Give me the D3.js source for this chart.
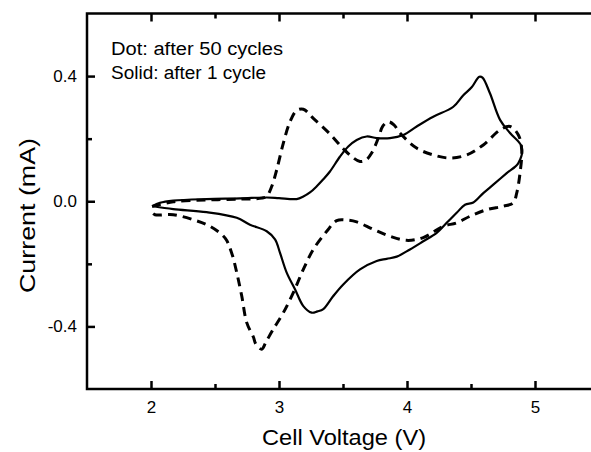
<!DOCTYPE html>
<html>
<head>
<meta charset="utf-8">
<script src="https://cdn.jsdelivr.net/npm/d3@7"></script>
<style>
  body { margin: 0; background: #fff; }
  svg { display: block; font-family: "Liberation Sans", Arial, sans-serif; }
</style>
</head>
<body>
<div id="chart"></div>
<script>
// After 1 cycle (solid)
const solidV = [2.01, 2.07, 2.174, 2.435, 2.695, 2.904, 3.0, 3.138, 3.19, 3.242, 3.295, 3.346, 3.398, 3.477, 3.541, 3.607, 3.685, 3.763, 3.867, 3.971, 4.076, 4.205, 4.362, 4.44, 4.505, 4.565, 4.59, 4.648, 4.727, 4.805, 4.896,
  4.87, 4.779, 4.674, 4.596, 4.518, 4.453, 4.388, 4.31, 4.232, 4.127, 4.023, 3.92, 3.841, 3.763, 3.633, 3.502, 3.424, 3.346, 3.3, 3.255, 3.19, 3.125, 3.06, 3.008, 2.969, 2.904, 2.773, 2.67, 2.435, 2.174, 2.018];
const solidI = [-0.016, -0.005, 0.002, 0.007, 0.009, 0.012, 0.010, 0.007, 0.015, 0.028, 0.048, 0.07, 0.095, 0.143, 0.175, 0.196, 0.207, 0.202, 0.202, 0.212, 0.239, 0.270, 0.302, 0.339, 0.364, 0.398, 0.395, 0.345, 0.260, 0.218, 0.174,
  0.122, 0.090, 0.053, 0.026, -0.004, -0.011, -0.037, -0.069, -0.101, -0.128, -0.154, -0.177, -0.184, -0.191, -0.218, -0.266, -0.303, -0.345, -0.352, -0.356, -0.335, -0.281, -0.228, -0.165, -0.122, -0.096, -0.075, -0.053, -0.035, -0.025, -0.016];

// After 50 cycles (dashed)
const dashV = [2.008, 2.174, 2.435, 2.695, 2.867, 2.904, 2.943, 2.982, 3.034, 3.086, 3.138, 3.19, 3.268, 3.398, 3.502, 3.57, 3.633, 3.68, 3.724, 3.776, 3.812, 3.854, 3.898, 3.945, 4.075, 4.205, 4.336, 4.466, 4.596, 4.727, 4.805, 4.87, 4.896,
  4.883, 4.857, 4.83, 4.752, 4.623, 4.492, 4.388, 4.284, 4.127, 3.998, 3.867, 3.737, 3.607, 3.523, 3.451, 3.373, 3.268, 3.19, 3.112, 3.034, 2.955, 2.898, 2.865, 2.82, 2.80, 2.748, 2.709, 2.67, 2.63, 2.578, 2.461, 2.33, 2.174, 2.031, 2.008];
const dashI = [-0.017, -0.002, 0.004, 0.007, 0.010, 0.016, 0.047, 0.10, 0.186, 0.254, 0.290, 0.294, 0.265, 0.215, 0.168, 0.142, 0.127, 0.132, 0.154, 0.202, 0.241, 0.254, 0.244, 0.218, 0.170, 0.148, 0.138, 0.148, 0.180, 0.228, 0.239, 0.212, 0.164,
  0.090, 0.026, -0.005, -0.016, -0.027, -0.048, -0.069, -0.080, -0.116, -0.125, -0.112, -0.090, -0.066, -0.060, -0.062, -0.096, -0.154, -0.218, -0.292, -0.356, -0.409, -0.450, -0.473, -0.457, -0.434, -0.388, -0.303, -0.228, -0.165, -0.117, -0.080, -0.059, -0.043, -0.043, -0.036];

const xMajor = [2, 3, 4, 5];
const xMinor = [2.5, 3.5, 4.5];
const yMajor = [-0.4, 0.0, 0.4];
const yMinor = [-0.2, 0.2];
const notes = ["Dot: after 50 cycles", "Solid: after 1 cycle"];

const W = 591, H = 452;
const margin = { top: 13.5, left: 87, bottom: 63, rightEdge: 599 };

const svg = d3.select("#chart").append("svg")
  .attr("width", W).attr("height", H);

const x = d3.scaleLinear().domain([1.5, 5.5]).range([margin.left, margin.rightEdge]);
const y = d3.scaleLinear().domain([-0.6, 0.6]).range([H - margin.bottom, margin.top]);

// plain hyphen for negatives, like the original
const fmt = d => d.toFixed(1);

function styleAxis(g) {
  g.select(".domain").remove();
  g.selectAll(".tick line").attr("stroke", "#000").attr("stroke-width", 2.5);
  g.selectAll(".tick text").attr("fill", "#000").attr("font-size", 17)
    .attr("font-family", "Liberation Sans, Arial, sans-serif");
}

// Bottom / top axes
svg.append("g").attr("transform", `translate(0,${y(-0.6)})`)
  .call(d3.axisBottom(x).tickValues(xMajor).tickSize(-8).tickPadding(12).tickFormat(d3.format("d")))
  .call(styleAxis);
svg.append("g").attr("transform", `translate(0,${y(-0.6)})`)
  .call(d3.axisBottom(x).tickValues(xMinor).tickSize(-5).tickFormat(""))
  .call(styleAxis);
svg.append("g").attr("transform", `translate(0,${y(0.6)})`)
  .call(d3.axisTop(x).tickValues(xMajor).tickSize(-8).tickFormat(""))
  .call(styleAxis);
svg.append("g").attr("transform", `translate(0,${y(0.6)})`)
  .call(d3.axisTop(x).tickValues(xMinor).tickSize(-5).tickFormat(""))
  .call(styleAxis);

// Left / right axes
svg.append("g").attr("transform", `translate(${x(1.5)},0)`)
  .call(d3.axisLeft(y).tickValues(yMajor).tickSize(-8).tickPadding(10).tickFormat(fmt))
  .call(styleAxis);
svg.append("g").attr("transform", `translate(${x(1.5)},0)`)
  .call(d3.axisLeft(y).tickValues(yMinor).tickSize(-5).tickFormat(""))
  .call(styleAxis);
svg.append("g").attr("transform", `translate(${x(5.5)},0)`)
  .call(d3.axisRight(y).tickValues(yMajor).tickSize(-8).tickFormat(""))
  .call(styleAxis);

// Frame
svg.append("rect")
  .attr("x", x(1.5)).attr("y", y(0.6))
  .attr("width", x(5.5) - x(1.5)).attr("height", y(-0.6) - y(0.6))
  .attr("fill", "none").attr("stroke", "#000").attr("stroke-width", 2.5);

// Curves
const line = d3.line()
  .x(d => x(d[0])).y(d => y(d[1]))
  .curve(d3.curveCatmullRom.alpha(0.5));

svg.append("path")
  .datum(solidV.map((v, i) => [v, solidI[i]]))
  .attr("d", line)
  .attr("fill", "none").attr("stroke", "#000").attr("stroke-width", 2.2)
  .attr("stroke-linejoin", "round");

svg.append("path")
  .datum(dashV.map((v, i) => [v, dashI[i]]))
  .attr("d", line)
  .attr("fill", "none").attr("stroke", "#000").attr("stroke-width", 3)
  .attr("stroke-dasharray", "9,6");

// Notes
svg.selectAll(".note").data(notes).enter().append("text")
  .attr("class", "note")
  .attr("x", 111).attr("y", (d, i) => 54.5 + i * 24)
  .attr("font-size", 18).attr("fill", "#000")
  .attr("textLength", (d, i) => i === 0 ? 172 : 155)
  .attr("lengthAdjust", "spacingAndGlyphs")
  .text(d => d);

// Axis titles
svg.append("text")
  .attr("x", 262).attr("y", 445)
  .attr("font-size", 22)
  .attr("textLength", 164).attr("lengthAdjust", "spacingAndGlyphs")
  .text("Cell Voltage (V)");

svg.append("text")
  .attr("transform", "translate(35,293) rotate(-90)")
  .attr("font-size", 22)
  .attr("textLength", 155).attr("lengthAdjust", "spacingAndGlyphs")
  .text("Current (mA)");
</script>
</body>
</html>
